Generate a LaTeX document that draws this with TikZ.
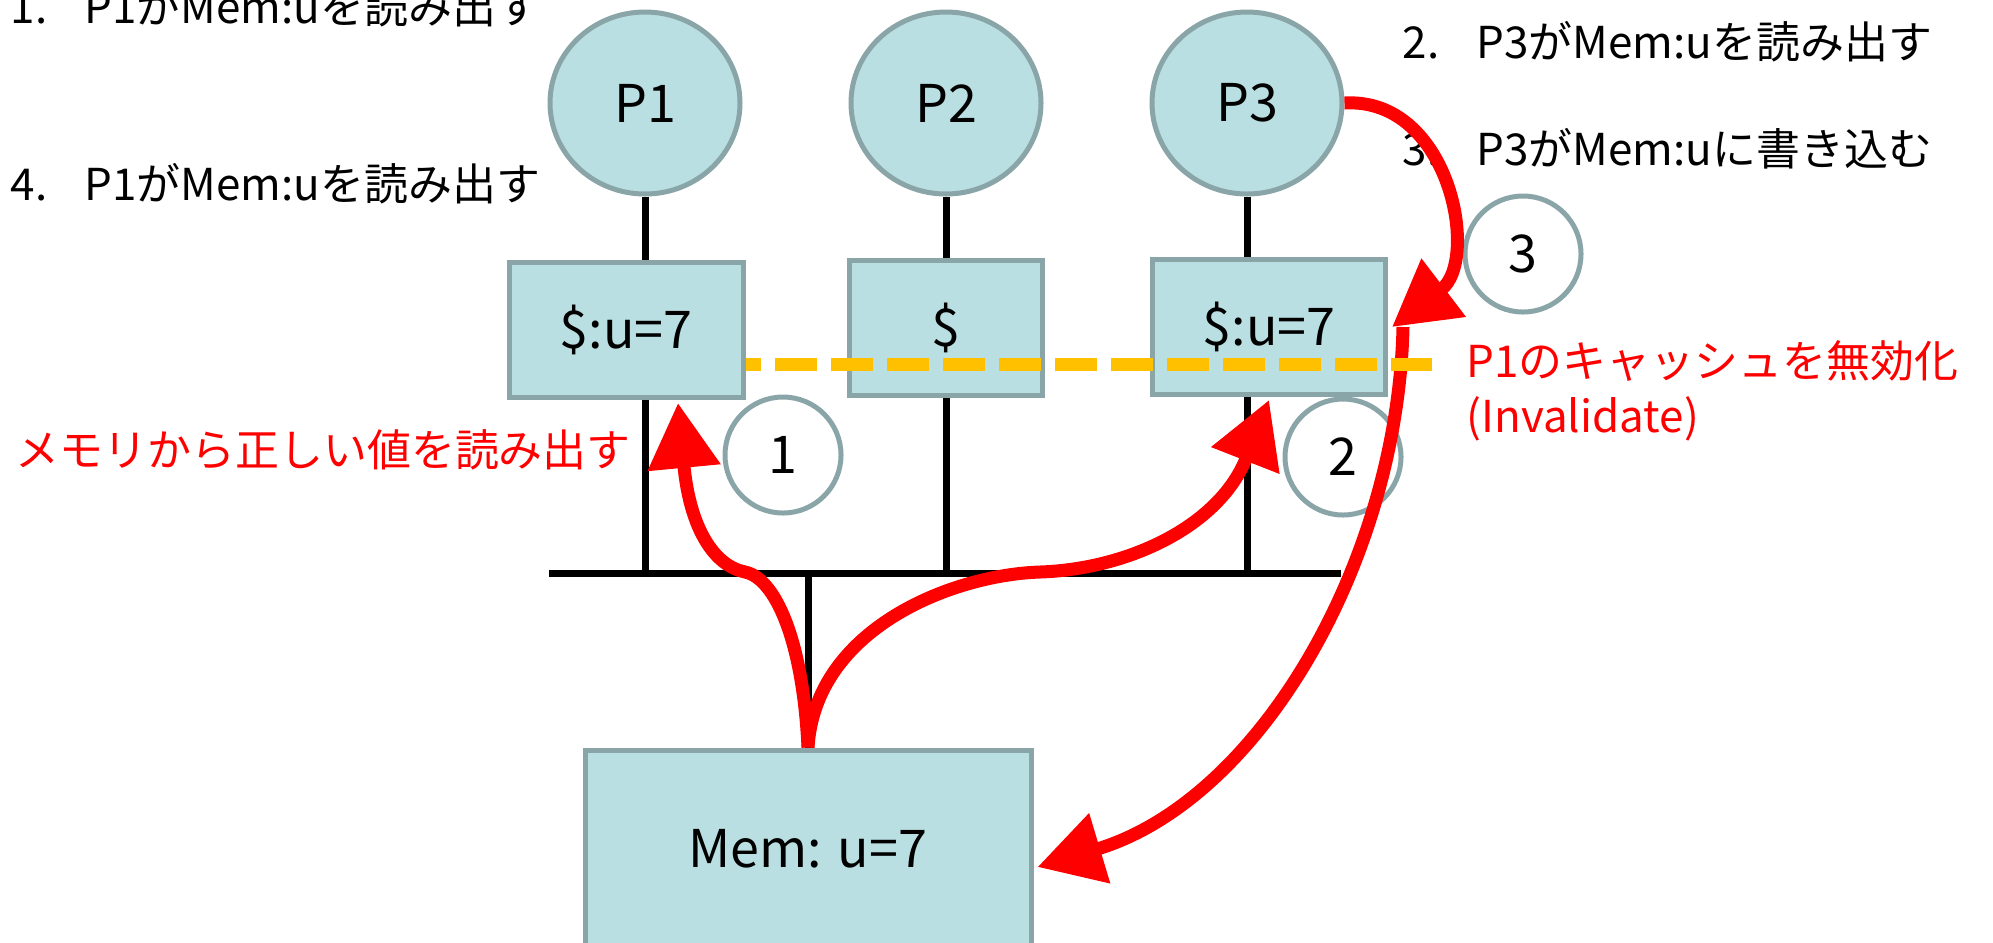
\documentclass[tikz,border=0pt]{standalone}
\usepackage{fontspec}
\setmainfont{Noto Sans CJK JP}
\usetikzlibrary{shapes,arrows,arrows.meta,positioning,calc}
\definecolor{boxfill}{HTML}{B9DFE2}
\definecolor{boxedge}{HTML}{8AA5A8}
\definecolor{invcol}{HTML}{FFC000}

\begin{document}
\begin{tikzpicture}[x=0.1mm,y=-0.1mm,
  proc/.style={ellipse, draw=boxedge, fill=boxfill, line width=0.5mm, minimum width=19mm, minimum height=18.2mm, font=\fontsize{14.8}{17}\selectfont},
  cache/.style={rectangle, draw=boxedge, fill=boxfill, line width=0.5mm, minimum height=13.5mm, font=\fontsize{14.8}{17}\selectfont},
  numcirc/.style={circle, draw=boxedge, fill=white, line width=0.5mm, minimum size=11.6mm, inner sep=0pt, font=\fontsize{14.8}{17}\selectfont},
  wire/.style={line width=0.7mm},
  flow/.style={red, line width=1.3mm, -{Triangle[length=6.5mm,width=7mm]}},
  note/.style={anchor=base west, inner sep=0pt, font=\fontsize{12.5}{14}\selectfont}]
\useasboundingbox (0,0) rectangle (1993,942);

% Processors
\node[proc] (p1) at (645,103) {P1};
\node[proc] (p2) at (946,103) {P2};
\node[proc] (p3) at (1247,103) {P3};

% Caches and memory
\node[cache, minimum width=23.4mm] (c1) at (626,330) {\$:u=7};
\node[cache, minimum width=19.3mm] (c2) at (946,328) {\$};
\node[cache, minimum width=23.3mm] (c3) at (1269,327) {\$:u=7};
\node[cache, minimum width=44.6mm, minimum height=19.8mm] (mem) at (808,849) {Mem: u=7};

% Bus
\coordinate (busl) at (549,573);
\coordinate (busr) at (1341,573);
\coordinate (tap) at (808,573);
\draw[wire] (busl) -- (busr);
\draw[wire] (tap) -- (mem.north);
\foreach \p/\c in {p1/c1,p2/c2,p3/c3} {
  \draw[wire] (\p.south) -- (\p.south |- \c.north);
  \draw[wire] (\p.south |- \c.south) -- (\p.south |- busl);
}

% Step numbers
\node[numcirc] (n1) at (783,455) {1};
\node[numcirc] (n2) at (1343,457) {2};
\node[numcirc] (n3) at (1523,254) {3};

% Labels
\node[note] (s1) at (10,23) {1.\hspace{0.85em}P1がMem:uを読み出す};
\node[note] (s4) at (10,200) {4.\hspace{0.85em}P1がMem:uを読み出す};
\node[note] (s2) at (1402,58) {2.\hspace{0.85em}P3がMem:uを読み出す};
\node[note] (s3) at (1402,165) {3.\hspace{0.85em}P3がMem:uに書き込む};
\node[note, red] (r1) at (15,466) {メモリから正しい値を読み出す};
\node[note, red] (r2) at (1466,377) {P1のキャッシュを無効化};
\node[note, red] (r3) at (1466,432) {(Invalidate)};

% Transfers
\draw[flow] (mem.north) .. controls (803,640) and (775,578) .. (745,572)
  .. controls (715,566) and (690,530) .. ($(c1.south)+(52,3)$);
\draw[flow] (mem.north) .. controls (815,630) and (950,575) .. (1040,572)
  .. controls (1130,569) and (1220,525) .. ($(c3.south)+(0,3)$);
\draw[flow] (p3.east) .. controls (1450,97) and (1480,260) .. ($(c3.east)+(4,0)$);
\draw[flow] ($(c3.east)+(15,0)$) .. controls (1398,560) and (1260,800) .. ($(mem.east)+(4,18)$);

% Invalidation
\coordinate (invend) at (1432,364);
\draw[invcol, line width=1.3mm, dash pattern=on 4.2mm off 1.4mm, dash phase=2.7mm] (c1.east |- invend) -- (invend);
\end{tikzpicture}
\end{document}
